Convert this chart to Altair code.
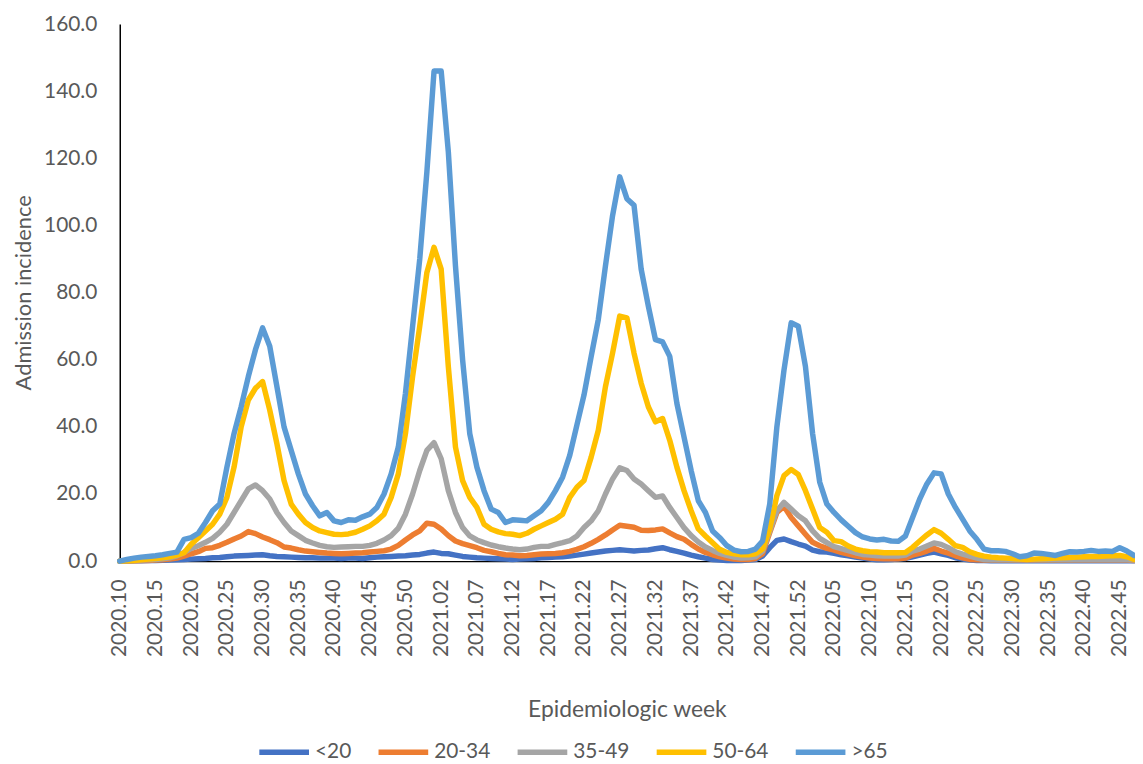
import altair as alt
import pandas as pd

# Week categories (2020 has 53 ISO weeks)
weeks = ([f"2020.{w:02d}" for w in range(10, 54)]
         + [f"2021.{w:02d}" for w in range(1, 53)]
         + [f"2022.{w:02d}" for w in range(1, 48)])
tick_idx = list(range(0, len(weeks), 5))
tick_weeks = [weeks[i] for i in tick_idx]

groups = ["<20", "20-34", "35-49", "50-64", ">65"]
colors = ["#4472C4", "#ED7D31", "#A5A5A5", "#FFC000", "#5B9BD5"]

lt20 = [
    0.0, 0.05, 0.1, 0.1, 0.15, 0.2, 0.25, 0.3, 0.4, 0.5,
    0.6, 0.7, 0.8, 1.0, 1.1, 1.3, 1.5, 1.6, 1.7, 1.8,
    1.9, 1.6, 1.4, 1.3, 1.2, 1.1, 1.0, 1.0, 0.9, 0.9,
    0.9, 0.8, 0.9, 0.9, 0.8, 1.0, 1.2, 1.3, 1.4, 1.5,
    1.6, 1.8, 2.0, 2.4, 2.7, 2.3, 2.2, 1.8, 1.4, 1.2,
    1.0, 0.9, 0.8, 0.7, 0.6, 0.5, 0.6, 0.7, 0.8, 1.0,
    1.1, 1.2, 1.3, 1.5, 1.8, 2.1, 2.4, 2.7, 3.0, 3.2,
    3.4, 3.2, 3.0, 3.2, 3.3, 3.7, 4.0, 3.4, 2.9, 2.4,
    1.8, 1.3, 0.9, 0.5, 0.3, 0.2, 0.2, 0.2, 0.3, 0.5,
    1.5, 4.0, 6.2, 6.6, 5.8, 5.1, 4.5, 3.3, 2.8, 2.7,
    2.3, 1.9, 1.6, 1.2, 0.9, 0.6, 0.4, 0.4, 0.5, 0.6,
    0.8, 1.3, 1.8, 2.3, 2.7, 2.2, 1.7, 1.0, 0.6, 0.3,
    0.2, 0.2, 0.1, 0.1, 0.1, 0.1, 0.1, 0.1, 0.1, 0.1,
    0.1, 0.1, 0.1, 0.1, 0.1, 0.1, 0.1, 0.1, 0.1, 0.1,
    0.1, 0.1, 0.1,
]

a20_34 = [
    0.0, 0.05, 0.1, 0.15, 0.2, 0.3, 0.4, 0.6, 0.9, 1.5,
    2.2, 2.8, 3.8, 4.0, 4.7, 5.6, 6.6, 7.5, 8.8, 8.2,
    7.2, 6.4, 5.5, 4.2, 3.9, 3.4, 3.0, 2.8, 2.6, 2.4,
    2.3, 2.2, 2.3, 2.4, 2.5, 2.7, 2.9, 3.1, 3.6, 4.7,
    6.3, 7.8, 9.0, 11.3, 11.0, 9.6, 7.6, 6.0, 5.2, 4.6,
    4.0, 3.2, 2.8, 2.3, 1.9, 1.8, 1.6, 1.7, 1.9, 2.1,
    2.2, 2.3, 2.5, 2.9, 3.5, 4.3, 5.3, 6.5, 7.8, 9.3,
    10.7, 10.4, 10.1, 9.2, 9.1, 9.3, 9.6, 8.4, 7.3, 6.5,
    5.0, 3.6, 2.6, 1.9, 1.3, 0.9, 0.6, 0.5, 0.5, 0.8,
    2.2, 8.5, 14.5, 16.3, 13.0, 10.5, 8.0, 5.6, 4.6, 3.8,
    3.3, 2.6, 2.1, 1.6, 1.2, 0.9, 0.8, 0.7, 0.7, 0.7,
    0.9, 1.8, 2.3, 3.0, 3.8, 3.0, 2.4, 1.6, 1.0, 0.5,
    0.4, 0.3, 0.3, 0.3, 0.3, 0.3, 0.3, 0.3, 0.3, 0.3,
    0.3, 0.3, 0.3, 0.3, 0.3, 0.3, 0.3, 0.3, 0.3, 0.3,
    0.3, 0.3, 0.2,
]

a35_49 = [
    0.0, 0.1, 0.2, 0.3, 0.4, 0.5, 0.7, 1.0, 1.6, 2.6,
    3.8, 4.6, 5.6, 6.8, 8.6, 11.0, 14.5, 18.0, 21.5, 22.7,
    21.0, 18.5, 14.5, 11.5, 9.0, 7.6, 6.2, 5.4, 4.7, 4.3,
    4.1, 4.2, 4.3, 4.4, 4.4, 4.7, 5.3, 6.3, 7.6, 9.8,
    14.0, 20.0, 27.0, 33.0, 35.3, 30.5, 21.0, 14.5, 10.0, 7.5,
    6.3, 5.5, 4.8, 4.3, 3.9, 3.6, 3.4, 3.6, 4.1, 4.4,
    4.4, 5.0, 5.5, 6.1, 7.5, 10.0, 12.0, 15.0, 20.0, 24.5,
    27.8, 27.0, 24.5, 23.0, 21.0, 19.0, 19.4, 16.0, 13.0, 10.0,
    7.6, 5.7, 4.2, 3.2, 2.3, 1.7, 1.2, 0.9, 1.0, 1.3,
    3.0, 9.0, 15.0, 17.5, 15.5, 13.5, 12.0, 9.0, 6.8, 5.5,
    4.3, 3.7, 3.1, 2.5, 2.0, 1.8, 1.6, 1.5, 1.5, 1.5,
    1.8, 3.0, 3.6, 4.5, 5.4, 5.0, 4.0, 2.8, 2.1, 1.5,
    0.9, 0.5, 0.4, 0.4, 0.4, 0.4, 0.4, 0.4, 0.4, 0.4,
    0.4, 0.4, 0.4, 0.4, 0.4, 0.4, 0.4, 0.4, 0.4, 0.4,
    0.4, 0.4, 0.3,
]

a50_64 = [
    0.0, 0.1, 0.2, 0.4, 0.6, 0.8, 1.0, 1.3, 1.8, 2.5,
    5.0, 7.0, 9.0, 11.0, 14.0, 19.0, 28.0, 40.0, 48.0, 51.5,
    53.5, 45.0, 35.0, 24.0, 17.0, 14.0, 11.5, 10.0, 9.0, 8.5,
    8.0, 7.9, 8.1, 8.6, 9.5, 10.5, 12.0, 14.0, 19.0, 26.0,
    38.0, 55.0, 70.0, 86.0, 93.5, 87.0, 58.0, 34.0, 24.0, 19.0,
    16.0, 11.0, 9.5, 8.7, 8.2, 8.0, 7.6, 8.3, 9.5, 10.5,
    11.5, 12.5, 14.0, 19.0, 22.0, 24.0, 31.0, 39.0, 52.0, 62.0,
    73.0, 72.5, 62.0, 53.0, 46.0, 41.5, 42.5, 36.0, 28.0, 21.0,
    15.0, 9.6, 7.5, 5.5, 3.5, 2.6, 2.2, 1.9, 1.9, 2.2,
    3.6, 9.6, 19.5, 25.5, 27.3, 25.8, 21.0, 15.5, 10.0, 8.6,
    6.1, 5.8, 4.5, 3.6, 3.1, 2.8, 2.7, 2.5, 2.5, 2.5,
    2.6, 4.1, 6.0, 7.8, 9.4, 8.3, 6.5, 4.6, 4.1, 2.8,
    2.0, 1.5, 1.2, 1.0, 0.9, 0.8, 0.6, 0.5, 0.6, 0.7,
    0.8, 0.9, 1.0, 1.1, 1.2, 1.3, 1.4, 1.4, 1.5, 1.6,
    1.7, 1.3, 0.5,
]

gt65 = [
    0.0, 0.5, 0.9, 1.2, 1.4, 1.6, 1.9, 2.3, 2.7, 6.5,
    7.0, 8.3, 11.5, 15.0, 17.0, 28.0, 38.0, 46.0, 55.0, 63.0,
    69.5, 64.0, 52.0, 40.0, 33.0, 26.0, 20.0, 16.5, 13.5, 14.5,
    12.0, 11.5, 12.3, 12.2, 13.2, 14.0, 16.0, 20.0, 26.0, 34.0,
    50.0, 70.0, 90.0, 116.0, 146.0, 146.0, 122.0, 88.0, 60.0, 38.0,
    28.0, 21.0, 15.5, 14.5, 11.5, 12.3, 12.2, 12.0, 13.5, 15.0,
    17.5, 21.0, 25.0, 31.5, 40.5, 49.5, 61.0, 72.0, 88.0, 103.0,
    114.5, 108.0, 106.0, 87.0, 76.0, 66.0, 65.3, 61.0, 47.0, 37.0,
    27.0, 18.0, 14.5, 9.0, 7.0, 4.6, 3.3, 2.8, 2.9, 3.6,
    6.0, 17.0, 40.0, 57.0, 71.0, 70.0, 58.0, 38.0, 23.5, 17.0,
    14.5, 12.3, 10.4, 8.5, 7.2, 6.6, 6.3, 6.5, 6.0, 5.9,
    7.5, 13.0, 18.5, 23.0, 26.3, 26.0, 20.0, 16.0, 12.5, 9.0,
    6.5, 3.6, 3.1, 3.1, 2.9, 2.2, 1.3, 1.6, 2.4, 2.3,
    2.0, 1.7, 2.3, 2.8, 2.7, 2.9, 3.2, 2.9, 3.0, 2.9,
    4.0, 3.0, 1.7,
]

series = {"<20": lt20, "20-34": a20_34, "35-49": a35_49, "50-64": a50_64, ">65": gt65}

rows = []
for g in groups:
    for i, (w, v) in enumerate(zip(weeks, series[g])):
        rows.append({"idx": i, "week": w, "group": g, "value": v})
df = pd.DataFrame(rows)

FONT = "Lato"
TXT = "#595959"
LW = 5.5

label_array = "[" + ",".join(f"'{w}'" for w in tick_weeks) + "]"
label_expr = f"{label_array}[round(datum.value / 5)]"

x_enc = alt.X(
    "idx:Q",
    scale=alt.Scale(domain=[0, len(weeks) - 1], nice=False, zero=False),
    axis=alt.Axis(
        values=tick_idx,
        labelExpr=label_expr,
        labelAngle=270,
        labelAlign="right",
        labelBaseline="middle",
        labelFont=FONT,
        labelFontSize=21,
        labelColor=TXT,
        labelPadding=18,
        labelOverlap=False,
        labelFlush=False,
        ticks=False,
        tickSize=0,
        grid=False,
        domainColor="#000000",
        domainWidth=1.5,
        title="Epidemiologic week",
        titleFont=FONT,
        titleFontSize=23,
        titleFontWeight="normal",
        titleColor=TXT,
        titleY=156,
        titleBaseline="alphabetic",
    ),
)

y_enc = alt.Y(
    "value:Q",
    scale=alt.Scale(domain=[0, 160], nice=False),
    axis=alt.Axis(
        values=list(range(0, 161, 20)),
        format=".1f",
        labelFont=FONT,
        labelFontSize=21,
        labelColor=TXT,
        labelPadding=23,
        ticks=False,
        tickSize=0,
        grid=False,
        domainColor="#000000",
        domainWidth=1.5,
        title="Admission incidence",
        titleFont=FONT,
        titleFontSize=22,
        titleFontWeight="normal",
        titleColor=TXT,
        titleX=-90,
        titleY=270,
        titleBaseline="alphabetic",
    ),
)

color_enc = alt.Color(
    "group:N",
    scale=alt.Scale(domain=groups, range=colors),
    legend=alt.Legend(
        title=None,
        orient="none",
        direction="horizontal",
        columns=5,
        legendX=137.5,
        legendY=705,
        symbolType="stroke",
        symbolSize=2500,
        symbolStrokeWidth=LW,
        labelFont=FONT,
        labelFontSize=21,
        labelColor=TXT,
        labelOffset=3,
        columnPadding=16,
        padding=0,
    ),
)

layers = []
for g in groups:
    layers.append(
        alt.Chart(df[df["group"] == g])
        .mark_line(strokeWidth=LW, strokeJoin="round", strokeCap="round")
        .encode(x=x_enc, y=y_enc, color=color_enc)
    )

chart = (
    alt.layer(*layers)
    .properties(
        width=1021,
        height=540.6,
        autosize=alt.AutoSizeParams(type="none"),
        padding={"left": 112.5, "top": 13.7, "right": 1, "bottom": 201.5},
        background="white",
    )
    .configure_view(strokeWidth=0)
)

chart.save("out.html", embed_options={"renderer": "svg", "actions": False})
